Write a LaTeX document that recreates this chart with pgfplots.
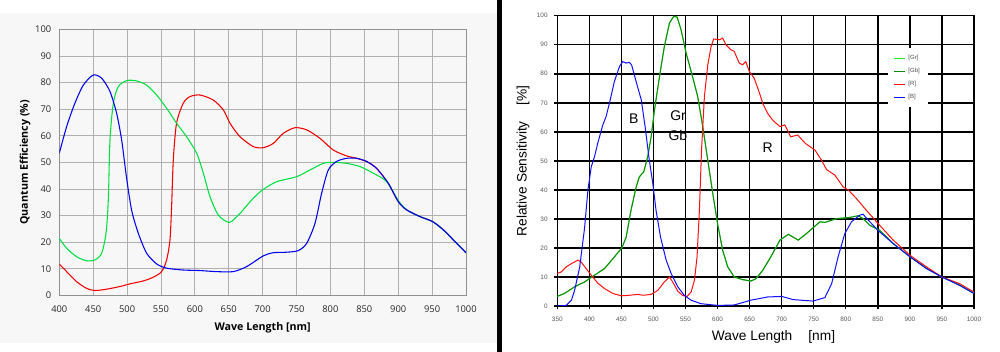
\documentclass[border=0pt]{standalone}
\usepackage{pgfplots}
\pgfplotsset{compat=1.18}
\usepackage{pgfplotstable}
\usepackage{fontspec}
\setmainfont{Liberation Sans}
\newfontfamily\osans{Open Sans}
\newfontfamily\lsans{Liberation Sans}
\definecolor{bgL}{HTML}{F7F7F7}
\definecolor{gridL}{HTML}{B0B0B0}
\definecolor{axL}{HTML}{909090}
\definecolor{cBlue}{HTML}{0000F0}
\definecolor{cGreen}{HTML}{00E040}
\definecolor{cRed}{HTML}{F00000}
\definecolor{gr}{HTML}{22EE22}
\definecolor{gb}{HTML}{108A10}
\definecolor{rr}{HTML}{FF1010}
\definecolor{bb}{HTML}{1010FF}

% ---------- left chart (Quantum Efficiency) ----------
\pgfplotstableread{
x y
400 53.4
410.8 63.4
423 72.2
435.4 79
450 82.8
462.5 81.6
474.8 76.6
484.6 68.4
492 58.4
499 44.6
506.7 32
516.6 23.3
528.9 15.8
543.6 11.8
558.4 10.2
583 9.5
607.5 9.3
632 8.9
656.7 8.9
676.4 10.8
700.9 14.8
715.7 16
735.4 16.2
752.6 16.8
764.9 19.5
777.2 27
787 38.3
796.9 47.1
809 50.3
824 51.5
838.7 51.5
853.5 50.3
868.2 47.7
885.4 42.1
900.2 35.2
912.5 32.1
932 29.6
950.8 27.7
966.6 24.6
983.8 20.2
1000 16
}\qeB
\pgfplotstableread{
x y
400 21.4
410.8 17.7
425.6 14.5
440 13
452.6 13.3
462.5 15.8
468.9 23.3
472.3 35.8
474.8 58.4
479.7 72.2
487 78.4
499.3 80.7
514 80.6
528.9 79
543.6 75.3
558.4 70.3
573 64.7
587.9 59.6
602.7 53.4
612.5 45.9
622.3 37.1
634.6 30.2
650.8 27.4
666.6 30.8
686.2 36.5
700.9 39.8
720.7 42.7
750.2 44.6
769.8 47.1
789.5 49.6
804.3 50
824 49.6
843.6 48.4
863.3 45.9
883 42.7
900.2 35.6
912.5 32.1
932 29.6
950.8 27.7
966.6 24.6
983.8 20.2
1000 16
}\qeG
\pgfplotstableread{
x y
400 11.7
410.8 8.9
425.6 5.1
440.3 2.6
452.6 1.8
469.8 2.3
489.5 3.3
504.3 4.3
524 5.4
538.7 6.8
551 8.9
558.4 13.3
563.3 20.8
565.7 33.3
568.2 50.9
573 64.7
582.9 72.2
592.8 74.7
607.5 75.3
627.2 73.4
642 69.7
651.8 64.7
666.6 59.6
686.2 55.9
700.9 55.5
715.7 57.1
730.5 60.9
747.7 63
764.9 62.2
784.6 59
804.3 54.6
824 52.4
838.7 51.5
853.5 50.3
868.2 47.7
885.4 42.1
900.2 35.2
912.5 32.1
932 29.6
950.8 27.7
966.6 24.6
983.8 20.2
1000 16
}\qeR

% ---------- right chart (Relative Sensitivity) ----------
\pgfplotstableread{
x y
350 0
364 0.2
372 2
377 5.4
385 13.5
392.6 27
397.8 40
403 48
408 51.4
413 56
421 62.4
426 65.2
431.5 70
439 77.3
447 82.5
452 84.2
457 83.7
462.7 83.9
466 83
473 77.3
481 71
487 61.8
492.8 51.4
499 42.2
504 33
511 23.8
519.8 15.8
527.6 11.2
538 6.6
548 3.7
558.7 2
574 0.8
600 0.2
626 0.35
652 2
678 3.1
700 3.3
718 2.2
749 1.7
767.5 2.9
778 7.7
788 16.9
798.6 25
809 29
822 31.3
827 31.6
835 29.6
850.5 26
874 21.5
900 17
925.7 12.9
950 10
977.6 7.1
1000 4.3
}\rsB
\pgfplotstableread{
x y
350 3.3
361 4.3
377 6.6
392.6 8.3
408 10.6
423.7 12.9
436.7 16.3
450.7 20
457.5 23.8
465 33
473 41
478 44.5
485 46.3
491 51.4
496.4 58.3
501.6 67.5
509.4 79
517 89.4
525 97.5
531.7 99.8
537 99.5
543 95.2
551 87.1
561 79
569 72.2
576.9 61.8
584.7 50.3
592.5 38.8
600 28.4
608 19.2
615.8 13.5
626 10
639 9.1
652 8.6
660 9.4
670.5 12.3
683 16.9
697.4 22.7
710.4 24.7
725.9 22.7
738.9 25
759.7 29
767.5 28.8
785.6 30.1
806 30.5
819.4 31.1
827 30.1
837.5 27.8
853 26.1
874 21.5
900 17
925.7 13
950 10
977.6 7.2
1000 4.4
}\rsG
\pgfplotstableread{
x y
350 11.2
356 11.7
364 13.5
372 14.6
382 15.8
387 15.2
395 12.9
403 10.6
413 7.9
423.7 6
436.7 4.3
449.7 3.5
462.7 3.7
475.6 4
483.4 3.7
496.4 4
506.8 5.4
517 8.3
525 10
530 8.3
538 5.1
545.7 3.6
552.5 3.3
558.7 4.8
564 8.9
568 16.9
571.7 33
575 53.7
579.5 72.2
584.7 83
589.9 89.4
594 92
603 91.7
608 92.3
613 90
620.8 88.3
626 87.7
633.8 83.7
639 83.1
644 84.2
649.6 80.8
657 78.5
663.7 74.5
670.5 69.8
678 66.4
686 64
697.4 61.8
705 62.4
714 58.3
725 58.9
737 56
752 53.7
762 50.3
770 47
783 45.1
796 41
803.8 40
816.8 37
832 33
850.5 28.4
874 22.7
900 17.5
925.7 13.5
950 10
977.6 7.7
1000 4.8
}\rsR

\begin{document}
\begin{tikzpicture}
\fill[white] (0,0) rectangle (750pt,264pt);
\fill[bgL] (0,6.75pt) rectangle (372.75pt,254.25pt);
\fill[black] (372.75pt,0) rectangle (376.5pt,264pt);

\begin{axis}[
  at={(44.475pt,42.525pt)}, anchor=south west,
  width=305pt, height=199.5pt, scale only axis,
  xmin=400, xmax=1000, ymin=0, ymax=100,
  xtick={400,450,...,1000}, ytick={0,10,...,100},
  grid=major, major grid style={gridL, line width=0.55pt},
  axis line style={axL, line width=0.6pt},
  major tick length=0pt,
  tick label style={font=\osans\fontsize{7}{8}\selectfont, text=black!85},
  /pgf/number format/assume math mode=true,
  /pgf/number format/1000 sep={},
  xticklabel style={yshift=-4pt},
  yticklabel style={xshift=-2.5pt},
  xlabel={Wave Length [nm]},
  ylabel={Quantum Efficiency (\%)},
  label style={font=\osans\bfseries\fontsize{8}{9}\selectfont},
  x label style={at={(axis description cs:0.5,-0.123)}, anchor=center},
  y label style={at={(axis description cs:-0.0843,0.5)}, anchor=center},
]
\addplot[cRed, line width=0.8pt, smooth, tension=0.45] table {\qeR};
\addplot[cGreen, line width=0.8pt, smooth, tension=0.45] table {\qeG};
\addplot[cBlue, line width=0.8pt, smooth, tension=0.45] table {\qeB};
\end{axis}

\begin{axis}[
  at={(417.975pt,34.5pt)}, anchor=south west,
  width=312.5pt, height=217.7pt, scale only axis,
  xmin=350, xmax=1000, ymin=0, ymax=100,
  xtick={350,400,...,1000}, ytick={0,10,...,100},
  grid=major, major grid style={black, line width=1.1pt},
  axis line style={black, line width=1.1pt},
  tick align=outside, major tick length=2.25pt,
  tick style={black, line width=1.1pt},
  xtick pos=bottom, ytick pos=left,
  tick label style={font=\lsans\fontsize{4.8}{5.5}\selectfont, text=black!65},
  /pgf/number format/assume math mode=true,
  /pgf/number format/1000 sep={},
  xticklabel style={yshift=-2.5pt},
  yticklabel style={xshift=-1.5pt},
  xlabel={Wave Length\hspace{12pt}[nm]},
  ylabel={Relative Sensitivity\hspace{12pt}[\%]},
  label style={font=\lsans\fontsize{10.3}{12}\selectfont},
  x label style={at={(axis description cs:0.519,-0.1058)}, anchor=center},
  y label style={at={(axis description cs:-0.0823,0.5)}, anchor=center},
  legend style={at={(axis description cs:0.7936,0.8887)}, anchor=north west,
    draw=none, fill=white, font=\lsans\fontsize{4.5}{5}\selectfont,
    text=black!70, row sep=1pt, inner xsep=4pt, inner ysep=3pt},
  legend cell align=left,
  legend image code/.code={\draw[#1, line width=0.9pt] (0pt,0pt) -- (8.25pt,0pt);},
]
\addplot[gr, line width=0.75pt] table {\rsG};
\addlegendentry{[Gr]}
\addplot[gb, line width=0.75pt] table {\rsG};
\addlegendentry{[Gb]}
\addplot[rr, line width=0.75pt] table {\rsR};
\addlegendentry{[R]}
\addplot[bb, line width=0.75pt] table {\rsB};
\addlegendentry{[B]}
\node[font=\lsans\fontsize{10.5}{12}\selectfont] at (axis cs:469.2,64.7) {B};
\node[font=\lsans\fontsize{10.5}{12}\selectfont, anchor=west, inner sep=0pt] at (axis cs:525.8,65.5) {Gr};
\node[font=\lsans\fontsize{10.5}{12}\selectfont, anchor=west, inner sep=0pt] at (axis cs:523.2,58.7) {Gb};
\node[font=\lsans\fontsize{10.5}{12}\selectfont] at (axis cs:678.2,54.7) {R};
\end{axis}
\end{tikzpicture}
\end{document}
